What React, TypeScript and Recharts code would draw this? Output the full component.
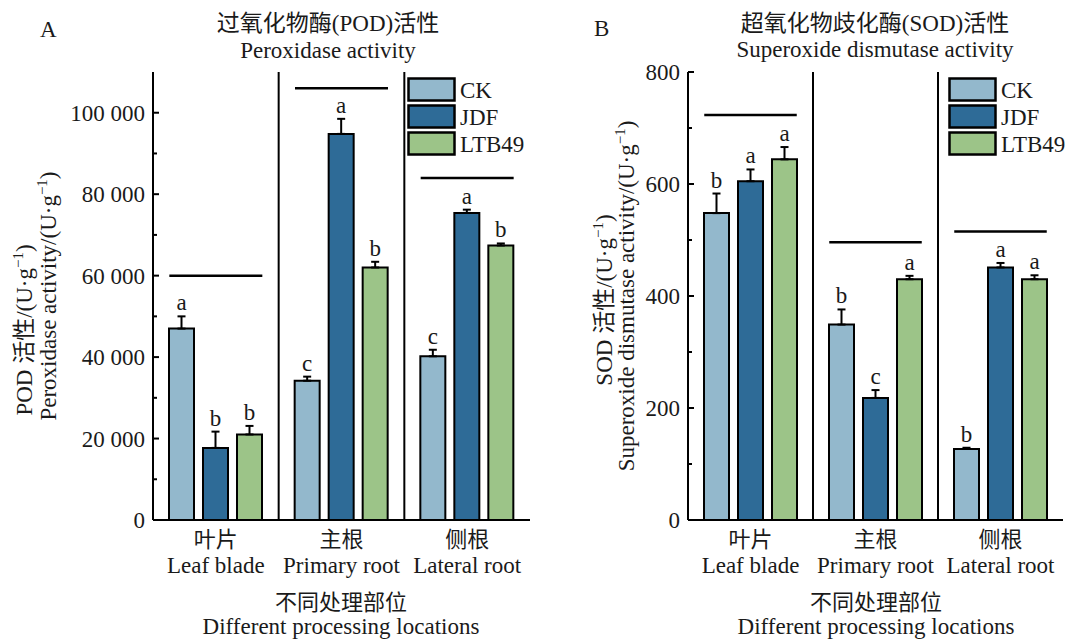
import { Bar, BarChart, ErrorBar, LabelList, Legend, ReferenceLine, XAxis, YAxis } from 'recharts';

const categories = ['叶片', '主根', '侧根'];
const categoriesEn = ['Leaf blade', 'Primary root', 'Lateral root'];
const seriesNames = ['CK', 'JDF', 'LTB49'];
const seriesKeys = ['ck', 'jdf', 'ltb'];

// POD (U/g)
const podCk = [47000, 34200, 40200];
const podCkErr = [3000, 1000, 1600];
const podJdf = [17700, 94800, 75400];
const podJdfErr = [4000, 3700, 800];
const podLtb = [21000, 62000, 67400];
const podLtbErr = [2100, 1400, 500];
const podLetters = [['a', 'c', 'c'], ['b', 'a', 'a'], ['b', 'b', 'b']];
const podSigLines = [60000, 106000, 84000];
const podTicks = [0, 10000, 20000, 30000, 40000, 50000, 60000, 70000, 80000, 90000, 100000];

// SOD (U/g)
const sodCk = [548, 349, 127];
const sodCkErr = [35, 27, 2];
const sodJdf = [605, 218, 451];
const sodJdfErr = [21, 14, 8];
const sodLtb = [644, 430, 430];
const sodLtbErr = [22, 6, 7];
const sodLetters = [['b', 'b', 'b'], ['a', 'c', 'a'], ['a', 'a', 'a']];
const sodSigLines = [723, 496, 515];
const sodTicks = [0, 100, 200, 300, 400, 500, 600, 700, 800];

const colors = ['#93b8cc', '#2e6b97', '#9cc488'];
const FONT = '"Liberation Serif", "Times New Roman", "Noto Sans CJK SC", serif';
const INK = '#1a1a1a';
const axisLine = { stroke: '#000', strokeWidth: 2 };

function buildRows(values: number[][], errors: number[][]) {
  return categories.map((name, i) => {
    const row: Record<string, unknown> = { name, pos: i + 0.5 };
    seriesKeys.forEach((k, s) => {
      row[k] = values[s][i];
      row[k + 'Err'] = [0, errors[s][i]];
    });
    return row;
  });
}

const fmt = (v: number) => String(v).replace(/\B(?=(\d{3})+(?!\d))/g, ' ');

function YTick(props: any) {
  const { x, y, payload, step } = props;
  const major = payload.value % step === 0;
  return (
    <g>
      <line x1={x} x2={x + (major ? 6 : 4)} y1={y} y2={y} stroke="#000" strokeWidth={2} />
      {major && (
        <text x={x - 8} y={y + 8} textAnchor="end" fontSize={23} fill={INK}>
          {fmt(payload.value)}
        </text>
      )}
    </g>
  );
}

function XTick(props: any) {
  const { x, y, payload, index } = props;
  return (
    <g>
      <text x={x} y={y + 27} textAnchor="middle" fontSize={22} fill={INK}>
        {payload.value}
      </text>
      <text x={x} y={y + 53} textAnchor="middle" fontSize={23} fill={INK}>
        {categoriesEn[index]}
      </text>
    </g>
  );
}

function SigLetter(props: any) {
  const vb = props.viewBox ?? props;
  const { x, y, width, height } = vb;
  const i = props.index;
  const v = Number(props.value);
  const top = y - (props.err[i] * height) / v;
  return (
    <text x={x + width / 2} y={top - 6} textAnchor="middle" fontSize={23} fill={INK}>
      {props.letters[i]}
    </text>
  );
}

function LegendBox({ payload }: any) {
  return (
    <svg width={130} height={84}>
      {(payload || []).map((e: any, i: number) => (
        <g key={e.value}>
          <rect
            x={1.5}
            y={1.5 + i * 27}
            width={46}
            height={22}
            fill={colors[seriesNames.indexOf(e.value)]}
            stroke="#000"
            strokeWidth={2.5}
          />
          <text x={53} y={21 + i * 27} fontSize={23} fill={INK} fontFamily={FONT}>
            {e.value}
          </text>
        </g>
      ))}
    </svg>
  );
}

type PanelProps = {
  left: number;
  width: number;
  values: number[][];
  errors: number[][];
  letters: string[][];
  sigLines: number[];
  ticks: number[];
  step: number;
  max: number;
  legendLeft: number;
};

function Panel({ left, width, values, errors, letters, sigLines, ticks, step, max, legendLeft }: PanelProps) {
  const rows = buildRows(values, errors);
  return (
    <div style={{ position: 'absolute', left, top: 0 }}>
      <BarChart
        width={width}
        height={642}
        data={rows}
        margin={{ top: 72, right: left === 0 ? 30 : 2, bottom: 0, left: 0 }}
        barSize={25}
        barGap={9}
      >
        <XAxis
          dataKey="name"
          height={122}
          tickLine={false}
          tickSize={0}
          tickMargin={0}
          axisLine={axisLine}
          interval={0}
          tick={(p: any) => <XTick {...p} />}
        />
        <XAxis xAxisId="top" orientation="top" dataKey="name" height={0} tick={false} tickLine={false} axisLine={axisLine} />
        <XAxis xAxisId="sep" type="number" dataKey="pos" domain={[0, 3]} hide />
        <YAxis
          domain={[0, max]}
          ticks={ticks}
          interval={0}
          width={153}
          tickLine={false}
          tickSize={0}
          tickMargin={0}
          axisLine={axisLine}
          allowDataOverflow
          tick={(p: any) => <YTick {...p} step={step} />}
        />
        <YAxis yAxisId="right" orientation="right" width={0} domain={[0, max]} tick={false} tickLine={false} axisLine={axisLine} />
        {seriesKeys.map((k, s) => (
          <Bar
            key={k}
            dataKey={k}
            name={seriesNames[s]}
            fill={colors[s]}
            stroke="#000"
            strokeWidth={2}
            isAnimationActive={false}
          >
            <ErrorBar dataKey={k + 'Err'} direction="y" width={4} stroke="#000" strokeWidth={2} isAnimationActive={false} />
            <LabelList dataKey={k} content={(p: any) => <SigLetter {...p} err={errors[s]} letters={letters[s]} />} />
          </Bar>
        ))}
        <ReferenceLine xAxisId="sep" x={1} stroke="#000" strokeWidth={2} />
        <ReferenceLine xAxisId="sep" x={2} stroke="#000" strokeWidth={2} />
        {sigLines.map((yv, i) => (
          <ReferenceLine
            key={i}
            xAxisId="sep"
            segment={[
              { x: i + 0.13, y: yv },
              { x: i + 0.87, y: yv },
            ]}
            stroke="#000"
            strokeWidth={2.5}
          />
        ))}
        <Legend
          layout="vertical"
          align="center"
          verticalAlign="middle"
          wrapperStyle={{ left: legendLeft, top: 77, width: 130, height: 84 }}
          content={(p: any) => <LegendBox {...p} />}
        />
      </BarChart>
    </div>
  );
}

function Sup() {
  return (
    <>
      <tspan dy={-9} fontSize={15}>−1</tspan>
      <tspan dy={9}>)</tspan>
    </>
  );
}

export default function App() {
  return (
    <div style={{ position: 'absolute', left: 0, top: 0, width: 1065, height: 642, fontFamily: FONT, background: '#fff' }}>
      <Panel
        left={0}
        width={560}
        values={[podCk, podJdf, podLtb]}
        errors={[podCkErr, podJdfErr, podLtbErr]}
        letters={podLetters}
        sigLines={podSigLines}
        ticks={podTicks}
        step={20000}
        max={110000}
        legendLeft={407}
      />
      <Panel
        left={535}
        width={530}
        values={[sodCk, sodJdf, sodLtb]}
        errors={[sodCkErr, sodJdfErr, sodLtbErr]}
        letters={sodLetters}
        sigLines={sodSigLines}
        ticks={sodTicks}
        step={200}
        max={800}
        legendLeft={413}
      />
      <svg width={1065} height={642} style={{ position: 'absolute', left: 0, top: 0, pointerEvents: 'none' }} fontFamily={FONT} fill={INK}>
        <text x={40} y={37} fontSize={23}>A</text>
        <text x={328} y={31} fontSize={23} textAnchor="middle">过氧化物酶(POD)活性</text>
        <text x={328} y={58} fontSize={23} textAnchor="middle">Peroxidase activity</text>
        <text x={594} y={36} fontSize={23}>B</text>
        <text x={875} y={31} fontSize={23} textAnchor="middle">超氧化物歧化酶(SOD)活性</text>
        <text x={875} y={57} fontSize={23} textAnchor="middle">Superoxide dismutase activity</text>

        <text x={32} y={330} fontSize={23} textAnchor="middle" transform="rotate(-90 32 330)">
          POD 活性/(U·g<Sup />
        </text>
        <text x={56} y={296} fontSize={23} textAnchor="middle" transform="rotate(-90 56 296)">
          Peroxidase activity/(U·g<Sup />
        </text>
        <text x={612} y={300} fontSize={23} textAnchor="middle" transform="rotate(-90 612 300)">
          SOD 活性/(U·g<Sup />
        </text>
        <text x={634} y={296} fontSize={23} textAnchor="middle" transform="rotate(-90 634 296)">
          Superoxide dismutase activity/(U·g<Sup />
        </text>

        <text x={341} y={610} fontSize={22} textAnchor="middle">不同处理部位</text>
        <text x={341} y={634} fontSize={23} textAnchor="middle">Different processing locations</text>
        <text x={876} y={610} fontSize={22} textAnchor="middle">不同处理部位</text>
        <text x={876} y={634} fontSize={23} textAnchor="middle">Different processing locations</text>
      </svg>
    </div>
  );
}
